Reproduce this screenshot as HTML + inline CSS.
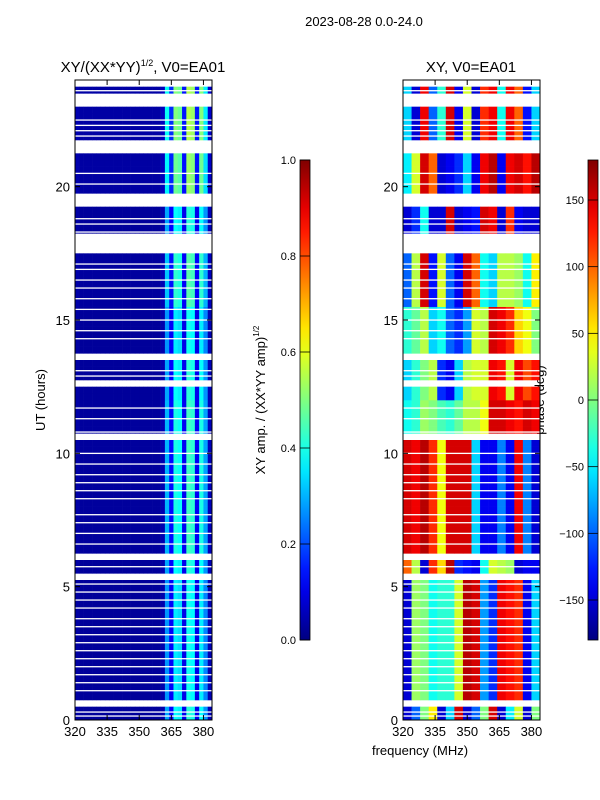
<!DOCTYPE html>
<html><head><meta charset="utf-8"><style>
body{margin:0;background:#fff}
svg{display:block;font-family:"Liberation Sans",sans-serif}
</style></head><body>
<svg id="fig" width="600" height="800" viewBox="0 0 600 800" xmlns="http://www.w3.org/2000/svg">
<defs><linearGradient id="jetg" x1="0" y1="1" x2="0" y2="0"></linearGradient></defs>
<text x="364" y="26" font-size="13" text-anchor="middle">2023-08-28 0.0-24.0</text>
<text x="143" y="72" font-size="15" text-anchor="middle">XY/(XX*YY)<tspan dy="-6" font-size="9">1/2</tspan><tspan dy="6">, V0=EA01</tspan></text>
<text x="471" y="72" font-size="15" text-anchor="middle">XY, V0=EA01</text>
<text transform="translate(45,400) rotate(-90)" font-size="13" text-anchor="middle">UT (hours)</text>
<text x="420" y="755" font-size="13" text-anchor="middle">frequency (MHz)</text>
<text transform="translate(265,400) rotate(-90)" font-size="13" text-anchor="middle">XY amp. / (XX*YY amp)<tspan dy="-6" font-size="8">1/2</tspan></text>
<text transform="translate(544,400) rotate(-90)" font-size="13" text-anchor="middle">phase (deg)</text>
<g id="left"></g>
<g id="right"></g>
<g id="axes"></g>
</svg>
<script>
// ---- data ----
const hoursRows = 96; // 0.25 h rows
const presenceMask = "110111111111111111111011011111111111111111011111110111011111111111111100011110011111100111110010";
const ampFreqs = [320,322,324,326,328,330,332,334,336,338,340,342,344,346,348,350,352,354,356,358,360,362,364,366,368,370,372,374,376,378,380,382];
const ampProfile = [0.04,0.03,0.03,0.03,0.03,0.03,0.03,0.03,0.03,0.03,0.03,0.03,0.03,0.03,0.03,0.03,0.03,0.03,0.03,0.03,0.05,0.32,0.14,0.42,0.4,0.12,0.46,0.44,0.12,0.42,0.3,0.06];
const phaseFreqs = [320,324,328,332,336,340,344,348,352,356,360,364,368,372,376,380];
const bandStarts = [0,0.8,5.5,6.2,10.5,12,13.5,15.5,17.4,19.3,21.3];
const bandGain = [0.9,0.85,0.9,0.95,0.95,0.9,0.85,1.0,0.9,1.15,1.2];
const phaseBands = [
 [-150,-100,0,50,-150,-60,150,-150,-100,0,150,-150,-50,30,-150,0],
 [-150,10,0,-40,-30,-30,30,160,150,-80,-120,140,130,120,-140,-60],
 [100,20,-150,120,60,160,-120,-130,-140,-40,30,20,10,-150,-140,-140],
 [150,140,160,120,40,150,150,150,-60,-140,-140,-90,-140,140,-90,-150],
 [-40,-30,10,0,-20,-30,-10,20,20,40,150,150,140,130,150,140],
 [-60,-30,0,20,-120,-140,-60,20,30,30,140,130,30,140,110,130],
 [-30,-10,20,-60,-40,-100,-120,-80,30,20,150,140,120,60,40,0],
 [-100,20,150,-130,30,-100,-140,150,100,-40,-60,20,20,10,-40,50],
 [-150,-120,-40,-150,-150,150,-150,-140,-130,150,140,-150,120,-140,-150,-150],
 [-50,30,150,100,-150,-140,-120,-60,-140,140,160,-140,140,150,130,160],
 [-60,-150,140,-100,-30,150,-140,30,-150,120,140,-40,140,100,-130,-60]
];
const gapLines = [0.15,0.3,1.1,1.4,1.7,2.0,2.3,2.6,2.9,3.2,3.5,3.8,4.2,4.5,4.8,5.1,5.3,5.75,6.6,7.0,7.4,7.7,8.3,8.6,8.9,9.2,9.6,10.0,10.8,11.3,11.7,12.6,12.9,13.1,13.7,14.3,14.6,15.0,15.4,15.8,16.2,16.5,16.9,17.1,18.1,18.3,18.6,18.8,20.1,20.5,21.7,21.9,22.1,22.3,22.5,23.6];
const xTicks = [320,335,350,365,380];
const yTicks = [0,5,10,15,20];
const ampTicks = [0.0,0.2,0.4,0.6,0.8,1.0];
const phaseTicks = [-150,-100,-50,0,50,100,150];

// ---- scales ----
const NS="http://www.w3.org/2000/svg";
const PY0=80, PY1=720, PW=137;
function xS(x0,f){return x0+(f-320)/64*PW;}
function yS(h){return PY1-h/24*(PY1-PY0);}
function jet(v){v=Math.max(0,Math.min(1,v));
 const r=Math.max(0,Math.min(1,1.5-Math.abs(4*v-3))),g=Math.max(0,Math.min(1,1.5-Math.abs(4*v-2))),b=Math.max(0,Math.min(1,1.5-Math.abs(4*v-1)));
 return `rgb(${Math.round(r*255)},${Math.round(g*255)},${Math.round(b*255)})`;}
function mk(tag,attrs,parent){const e=document.createElementNS(NS,tag);for(const k in attrs)e.setAttribute(k,attrs[k]);parent.appendChild(e);return e;}
function bandOf(h){let b=0;for(let i=0;i<bandStarts.length;i++)if(h>=bandStarts[i])b=i;return b;}

const L=document.getElementById('left'),R=document.getElementById('right'),A=document.getElementById('axes');
for(let r=0;r<hoursRows;r++){
 if(presenceMask[r]!=='1')continue;
 const h0=r*0.25,h1=h0+0.25,b=bandOf(h0+0.1);
 const ya=yS(h1),hh=yS(h0)-yS(h1);
 for(let c=0;c<ampFreqs.length;c++){
  const f0=ampFreqs[c],f1=c+1<ampFreqs.length?ampFreqs[c+1]:384;
  const x=xS(75,f0),w=xS(75,f1)-x;
  const e=mk('rect',{x:x,y:ya,width:w+0.3,height:hh+0.3,fill:jet(ampProfile[c]*bandGain[b])},L);
  
  
 }
 for(let c=0;c<phaseFreqs.length;c++){
  const f0=phaseFreqs[c],f1=c+1<phaseFreqs.length?phaseFreqs[c+1]:384;
  const x=xS(403,f0),w=xS(403,f1)-x;
  const e=mk('rect',{x:x,y:ya,width:w+0.3,height:hh+0.3,fill:jet((phaseBands[b][c]+180)/360)},R);
  
  
 }
}
for(const g of gapLines){
 for(const x0 of [75,403]){
  const e=mk('rect',{x:x0,y:yS(g)-0.6,width:PW,height:1.3,fill:'#fff'},A);
  
  
 }
}
for(const x0 of [75,403]){
 const fr=mk('rect',{x:x0,y:PY0,width:PW,height:PY1-PY0,fill:'none',stroke:'#000','stroke-width':1},A);
 
 
 for(const t of xTicks){const x=xS(x0,t);
  mk('line',{x1:x,x2:x,y1:PY1,y2:PY1-5,stroke:'#000'},A);mk('line',{x1:x,x2:x,y1:PY0,y2:PY0+5,stroke:'#000'},A);
  const tx=mk('text',{x:x,y:PY1+16,'font-size':13,'text-anchor':'middle'},A);tx.textContent=t;
  
  }
 for(const t of yTicks){const y=yS(t);
  mk('line',{x1:x0,x2:x0+5,y1:y,y2:y,stroke:'#000'},A);mk('line',{x1:x0+PW,x2:x0+PW-5,y1:y,y2:y,stroke:'#000'},A);
  const tx=mk('text',{x:x0-5,y:y+5,'font-size':13,'text-anchor':'end'},A);tx.textContent=t;
  
  }
}
const grad=document.getElementById('jetg');
for(let i=0;i<=20;i++){mk('stop',{offset:(i/20),'stop-color':jet(i/20)},grad);}
const CB0=160,CB1=640;
function cbar(x,ticks,lo,hi,name){
 const r=mk('rect',{x:x,y:CB0,width:10,height:CB1-CB0,fill:'url(#jetg)',stroke:'#000','stroke-width':0.8},A);
 
 
 for(const t of ticks){const y=CB1-(t-lo)/(hi-lo)*(CB1-CB0);
  mk('line',{x1:x,x2:x+10,y1:y,y2:y,stroke:'#000','stroke-width':0.8},A);
  const tx=mk('text',{x:x-4,y:y+4,'font-size':11,'text-anchor':'end'},A);
  tx.textContent=(lo===0?t.toFixed(1):(t<0?'\u2212'+(-t):t));
  
  }
}
cbar(300,ampTicks,0,1,'amp-colorbar');
cbar(588,phaseTicks,-180,180,'phase-colorbar');
</script>
</body></html>
